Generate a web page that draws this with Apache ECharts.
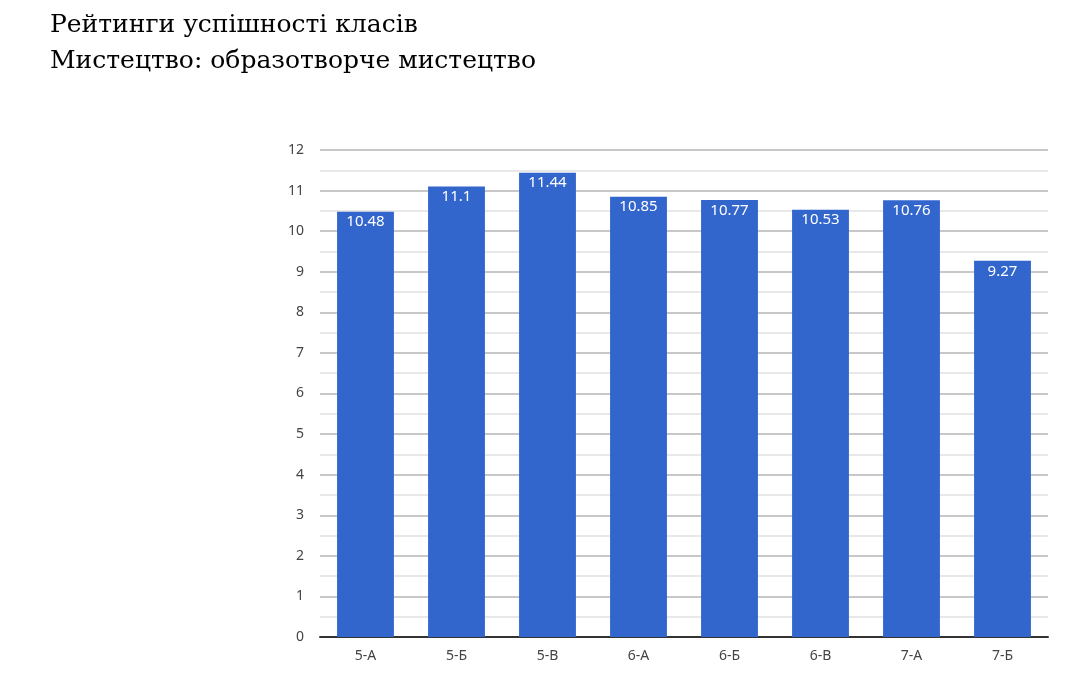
<!DOCTYPE html>
<html><head><meta charset="utf-8">
<script src="https://cdn.jsdelivr.net/npm/echarts@6/dist/echarts.min.js"></script>
<style>html,body{margin:0;padding:0;background:#fff}#c{width:1091px;height:681px}</style>
</head><body><div id="c"></div>
<script>
const titleLines = ['Рейтинги успішності класів', 'Мистецтво: образотворче мистецтво'];
const categories = ['5-А', '5-Б', '5-В', '6-А', '6-Б', '6-В', '7-А', '7-Б'];
const values = [10.48, 11.1, 11.44, 10.85, 10.77, 10.53, 10.76, 9.27];
const yMin = 0, yMax = 12, yInterval = 1;

const chart = echarts.init(document.getElementById('c'), null, {renderer: 'canvas'});
chart.setOption({
  animation: false,
  backgroundColor: '#fff',
  title: {
    text: titleLines.join('\n'),
    left: 45, top: 2,
    textStyle: {fontFamily: 'DejaVu Serif', fontSize: 25, fontWeight: 'normal', color: '#000', lineHeight: 36}
  },
  grid: {left: 320, right: 43, top: 150, bottom: 44, containLabel: false},
  xAxis: {
    type: 'category', data: categories,
    axisLine: {lineStyle: {color: '#333', width: 2}},
    axisTick: {show: false},
    axisLabel: {color: '#444', fontSize: 14, fontFamily: 'Noto Sans', margin: 12}
  },
  yAxis: {
    type: 'value', min: yMin, max: yMax, interval: yInterval,
    axisLine: {show: false}, axisTick: {show: false},
    axisLabel: {color: '#444', fontSize: 14, fontFamily: 'Noto Sans', margin: 16},
    splitLine: {lineStyle: {color: '#c8c8c8', width: 2}},
    minorTick: {show: false, splitNumber: 2},
    minorSplitLine: {show: true, lineStyle: {color: '#e8e8e8', width: 2}}
  },
  series: [{
    type: 'bar', data: values, barWidth: '62.5%',
    itemStyle: {color: '#3366cc'},
    label: {show: true, position: 'insideTop', color: '#fff', fontSize: 15, fontFamily: 'Noto Sans', distance: 3}
  }]
});
</script></body></html>
